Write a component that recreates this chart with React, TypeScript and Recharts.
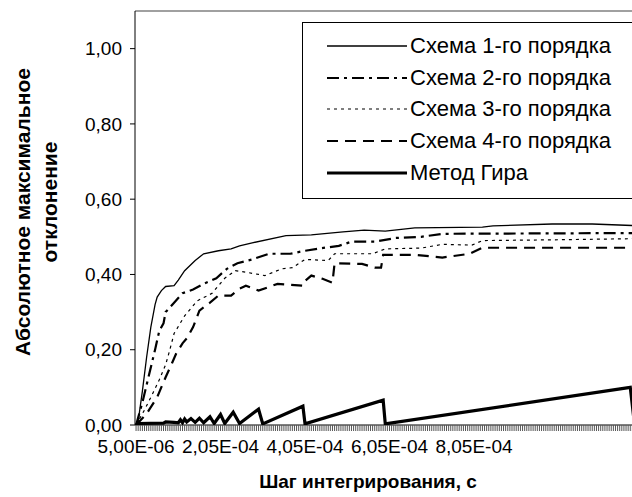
import { Label, Legend, Line, LineChart, ReferenceLine, XAxis, YAxis } from "recharts";

const FONT = '"Liberation Sans", Arial, sans-serif';

// ─── Данные: [шаг, мкс ; абсолютное максимальное отклонение] ──────────────────
const scheme1: [number, number][] = [
  [5, 0], [10, 0.01], [20, 0.09], [30, 0.18], [40, 0.26], [50, 0.32], [55, 0.34],
  [65, 0.357], [75, 0.368], [95, 0.37], [105, 0.385], [120, 0.41], [145, 0.437],
  [165, 0.455], [200, 0.463], [230, 0.468], [250, 0.476], [280, 0.484], [360, 0.503],
  [420, 0.505], [495, 0.513], [545, 0.518], [595, 0.515], [665, 0.524], [825, 0.526],
  [850, 0.529], [990, 0.534], [1085, 0.534], [1180, 0.53], [1250, 0.53],
];

const scheme2: [number, number][] = [
  [5, 0], [20, 0.06], [35, 0.13], [50, 0.2], [60, 0.25], [70, 0.27], [75, 0.3],
  [95, 0.325], [115, 0.35], [140, 0.36], [165, 0.375], [195, 0.39], [220, 0.415],
  [245, 0.43], [280, 0.44], [320, 0.455], [370, 0.455], [405, 0.463], [445, 0.47],
  [485, 0.476], [515, 0.487], [570, 0.487], [620, 0.497], [680, 0.5], [730, 0.508],
  [1180, 0.51], [1250, 0.51],
];

const scheme3: [number, number][] = [
  [5, 0], [25, 0.04], [45, 0.085], [60, 0.12], [75, 0.16], [85, 0.2], [95, 0.243],
  [120, 0.29], [150, 0.33], [185, 0.35], [215, 0.39], [240, 0.41], [270, 0.405],
  [295, 0.4], [310, 0.397], [350, 0.415], [375, 0.418], [405, 0.44], [460, 0.437],
  [475, 0.455], [565, 0.455], [595, 0.468], [680, 0.47], [730, 0.48], [800, 0.478],
  [825, 0.49], [990, 0.492], [1180, 0.495], [1250, 0.495],
];

const scheme4: [number, number][] = [
  [5, 0], [30, 0.03], [55, 0.074], [75, 0.127], [90, 0.164], [100, 0.19], [115, 0.217],
  [125, 0.23], [140, 0.26], [155, 0.304], [180, 0.325], [200, 0.344], [230, 0.344],
  [250, 0.362], [265, 0.37], [295, 0.357], [340, 0.375], [400, 0.37], [405, 0.383],
  [420, 0.397], [445, 0.389], [470, 0.378], [475, 0.43], [540, 0.428], [570, 0.418],
  [585, 0.418], [590, 0.452], [665, 0.452], [730, 0.445], [795, 0.455], [825, 0.471],
  [1180, 0.471], [1250, 0.471],
];

const gear: [number, number][] = [
  [5, 0], [10, 0.004], [70, 0.005], [75, 0.008], [95, 0.007], [105, 0.006], [110, 0.014],
  [115, 0.006], [120, 0.016], [125, 0.008], [135, 0.017], [145, 0.007], [155, 0.018],
  [165, 0.006], [180, 0.022], [190, 0.004], [205, 0.028], [215, 0.004], [235, 0.034],
  [250, 0.004], [295, 0.042], [305, 0.003], [400, 0.05], [405, 0.003], [590, 0.066],
  [595, 0.003], [1175, 0.1], [1185, 0.002], [1250, 0.01],
];

// ─── Оси ──────────────────────────────────────────────────────────────────────
const yTicks = [0, 0.2, 0.4, 0.6, 0.8, 1.0];
const xMajorTicks = [5, 205, 405, 605, 805];
const xTickLabels = ["5,00E-06", "2,05E-04", "4,05E-04", "6,05E-04", "8,05E-04"];
const X_STEP = 5;
const xMinorTicks = Array.from({ length: 250 }, (_, i) => (i + 1) * X_STEP);

const toPoints = (arr: [number, number][]) => arr.map(([x, y]) => ({ x, y }));

const SERIES = [
  { name: "Схема 1-го порядка", data: scheme1, width: 1.3, dash: undefined },
  { name: "Схема 2-го порядка", data: scheme2, width: 2.2, dash: "12 5 3 5" },
  { name: "Схема 3-го порядка", data: scheme3, width: 1.2, dash: "3 4" },
  { name: "Схема 4-го порядка", data: scheme4, width: 2.2, dash: "11 7" },
  { name: "Метод Гира", data: gear, width: 3.2, dash: undefined },
];

function XTick({ x, y, payload }: any) {
  const i = xMajorTicks.indexOf(payload?.value);
  if (i < 0) return <g />;
  return (
    <text x={x} y={y} dy={20} textAnchor="middle" fontSize={19} fontFamily={FONT} fill="#000">
      {xTickLabels[i]}
    </text>
  );
}

function YTitle() {
  return (
    <g fontFamily={FONT} fontWeight="bold" fontSize={21} fill="#000">
      <text x={22} y={212} transform="rotate(-90 22 212)" textAnchor="middle" dominantBaseline="central">
        Абсолютное максимальное
      </text>
      <text x={49} y={202} transform="rotate(-90 49 202)" textAnchor="middle" dominantBaseline="central">
        отклонение
      </text>
    </g>
  );
}

function XTitle() {
  return (
    <text x={368} y={481} textAnchor="middle" dominantBaseline="central" fontFamily={FONT} fontWeight="bold" fontSize={19} fill="#000">
      Шаг интегрирования, с
    </text>
  );
}

function LegendBox() {
  return (
    <div
      style={{
        boxSizing: "border-box",
        width: 345,
        height: 177,
        border: "1px solid #000",
        background: "#fff",
        paddingTop: 7,
        fontFamily: FONT,
        fontSize: 22,
        color: "#000",
      }}
    >
      {SERIES.map((s) => (
        <div key={s.name} style={{ display: "flex", alignItems: "center", height: 31.75 }}>
          <svg width={107} height={10} style={{ flexShrink: 0 }}>
            <line x1={24} x2={104} y1={5} y2={5} stroke="#000" strokeWidth={s.width} strokeDasharray={s.dash} />
          </svg>
          <span style={{ whiteSpace: "nowrap" }}>{s.name}</span>
        </div>
      ))}
    </div>
  );
}

export default function App() {
  return (
    <div style={{ position: "absolute", left: 0, top: 0, width: 632, height: 497, overflow: "hidden", background: "#fff" }}>
      <LineChart width={673} height={497} margin={{ top: 11, right: 10, left: 0, bottom: 0 }}>
        <XAxis
          type="number"
          dataKey="x"
          domain={[2.5, 1252.5]}
          ticks={xMinorTicks}
          interval={0}
          allowDataOverflow
          tick={<XTick />}
          tickSize={6}
          tickLine={{ stroke: "#555" }}
          axisLine={{ stroke: "#000" }}
          height={72}
        >
          <Label content={<XTitle />} />
        </XAxis>
        <YAxis
          type="number"
          domain={[0, 1.1]}
          ticks={yTicks}
          allowDataOverflow
          width={135}
          tickSize={5}
          tickMargin={8}
          tickLine={{ stroke: "#000" }}
          axisLine={{ stroke: "#000" }}
          tick={{ fontSize: 19, fill: "#000", fontFamily: FONT }}
          tickFormatter={(v: number) => v.toFixed(2).replace(".", ",")}
        >
          <Label content={<YTitle />} />
        </YAxis>
        <ReferenceLine y={1.1} stroke="#808080" strokeWidth={1.5} />
        {SERIES.map((s) => (
          <Line
            key={s.name}
            data={toPoints(s.data)}
            dataKey="y"
            name={s.name}
            type="linear"
            stroke="#000"
            strokeWidth={s.width}
            strokeDasharray={s.dash}
            dot={false}
            isAnimationActive={false}
          />
        ))}
        <Legend
          layout="horizontal"
          verticalAlign="middle"
          align="center"
          wrapperStyle={{ top: 22, left: 302, width: 345, height: 177 }}
          content={() => <LegendBox />}
        />
      </LineChart>
    </div>
  );
}
